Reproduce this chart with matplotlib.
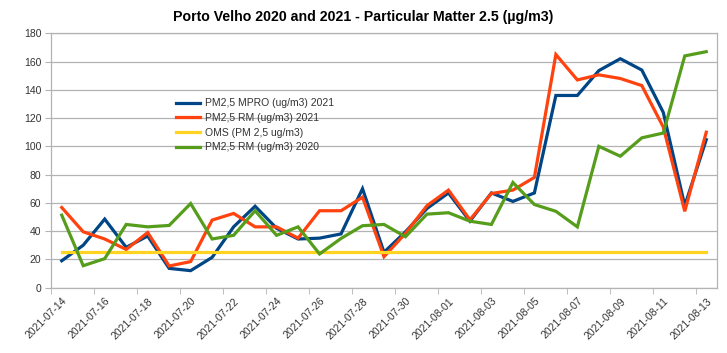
import matplotlib
matplotlib.use("Agg")
import matplotlib.pyplot as plt
import numpy as np
import pandas as pd

plt.rcParams['font.family'] = ['Liberation Sans', 'DejaVu Sans']

# daily values, 2021-07-14 .. 2021-08-13
dates = pd.date_range("2021-07-14", "2021-08-13", freq="D").strftime("%Y-%m-%d").tolist()

mpro_2021 = [19, 30, 48.5, 28.5, 36.5, 13.6, 12, 21.4, 43, 57.6, 42, 34.4, 35, 38, 70,
             25, 39.5, 56, 67, 47, 67, 61, 67, 136, 136, 153.6, 162, 154, 124, 58, 104.7]
rm_2021 = [56.7, 39.5, 34.4, 27, 39, 15.3, 18.4, 47.8, 52.5, 43, 43, 35, 54.4, 54.4, 64,
           21.9, 38.4, 58, 69, 48, 66.6, 69, 78, 165, 147, 150.6, 148, 143, 113.6, 54, 110]
oms = [25] * 31
rm_2020 = [51.3, 15.5, 20.5, 44.7, 43, 44, 59.5, 34.4, 37, 54.4, 37, 43, 23.8, 34.8, 43.8,
           44.7, 36, 52, 53, 47, 44.7, 74.4, 58.8, 54, 43, 100, 93, 106, 109.4, 164, 167]

series = [
    ("PM2,5 MPRO (ug/m3) 2021", mpro_2021, "#004586"),
    ("PM2,5 RM (ug/m3) 2021", rm_2021, "#ff420e"),
    ("OMS (PM 2,5 ug/m3)", oms, "#ffd320"),
    ("PM2,5 RM (ug/m3) 2020", rm_2020, "#579d1c"),
]

fig = plt.figure(figsize=(7.27, 3.53), dpi=100)
ax = fig.add_axes([51 / 727, (353 - 287.6) / 353, 666 / 727, 254.3 / 353])

x = np.arange(len(dates))
for label, vals, col in series:
    ax.plot(x, vals, color=col, lw=2.3, label=label, solid_joinstyle="miter")

ax.set_xlim(-0.5, len(dates) - 0.5)
ax.set_ylim(0, 180)
ax.set_yticks(np.arange(0, 181, 20))
ax.yaxis.grid(True, color="#b3b3b3", lw=0.9)
ax.set_axisbelow(True)

ax.set_xticks(x[::2])
ax.set_xticklabels(dates[::2], rotation=45, ha="right", rotation_mode="anchor")
ax.set_xticks(np.arange(-0.5, len(dates), 2), minor=True)
ax.tick_params(axis="x", which="major", length=0, pad=6)
ax.tick_params(axis="x", which="minor", length=4, color="#b3b3b3")
ax.tick_params(axis="y", length=4, color="#b3b3b3", pad=3)
ax.tick_params(labelsize=7.5, labelcolor="#333333")

for s in ax.spines.values():
    s.set_color("#b3b3b3")
    s.set_linewidth(0.9)

# title is centred on the whole figure, not on the plot area
fig.text(0.5, 1 - 20.7 / 353, "Porto Velho 2020 and 2021 - Particular Matter 2.5 (\u00b5g/m3)",
         ha="center", va="baseline", fontsize=10.2, fontweight="bold")

ax.legend(loc="upper left", bbox_to_anchor=(0.188, 0.745), frameon=False,
          fontsize=7.5, handlelength=2.3, handletextpad=0.5, labelspacing=0.45,
          borderpad=0, borderaxespad=0, labelcolor="#333333")

fig.savefig("out.png", dpi=100)
